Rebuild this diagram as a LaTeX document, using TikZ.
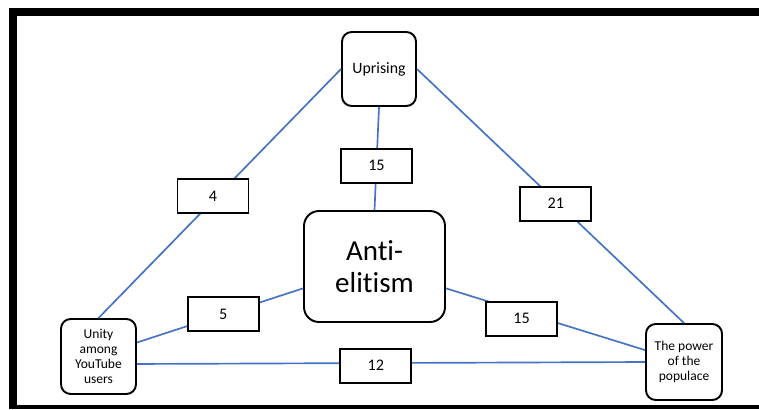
\documentclass[tikz,border=0pt]{standalone}
\usepackage{fontspec}
\setmainfont{Carlito}[Ligatures=NoCommon]
\definecolor{linkblue}{HTML}{4472C4}

\tikzset{
  topic/.style={draw=black, line width=1.1pt, rounded corners=5.5pt, fill=white, align=center,
    inner sep=0pt, minimum width=1.5cm, minimum height=1.5cm, font=\fontsize{7.7}{8.4}\selectfont},
  count/.style={draw=black, line width=1pt, fill=white, inner sep=0pt, minimum width=1.42cm,
    minimum height=0.68cm, font=\fontsize{9.2}{11}\selectfont},
  link/.style={draw=linkblue, line width=0.95pt}
}

\begin{document}
\begin{tikzpicture}[x=0.02cm, y=-0.02cm]
\useasboundingbox (0,0) rectangle (759,409);
\fill[black] (9,8) rectangle (759,16);
\fill[black] (9,8) rectangle (17,409);
\fill[black] (9,405) rectangle (759,409);

\node[topic, minimum width=1.48cm, minimum height=1.48cm, font=\fontsize{9}{11}\selectfont] (up) at (379,69) {Uprising};
\node[topic, minimum width=2.82cm, minimum height=2.22cm, rounded corners=8.5pt, font=\fontsize{16.5}{18}\selectfont] (anti) at (374.5,266.5) {Anti-\\elitism};
\node[topic] (unity) at (98.5,356.5) {Unity\\among\\YouTube\\users};
\node[topic, minimum width=1.52cm, minimum height=1.52cm] (pow) at (684,362) {The power\\of the\\populace};

\draw[link] (up.west) -- node[count, pos=.51, xshift=-2.5pt] {4} (unity.north);
\draw[link] (up.east) -- node[count, pos=.53, xshift=-1.5pt] {21} (pow.north);
\draw[link] (up.south) -- node[count, pos=.57] {15} (anti.north);
\draw[link] (anti.197) -- node[count, pos=.48] {5} (unity.20);
\draw[link] (anti.-17) -- node[count, pos=.38, yshift=-4pt] {15} (pow.163);
\draw[link] (unity.-11) -- node[count, pos=.47, yshift=-1.5pt] {12} (pow.west);
\end{tikzpicture}
\end{document}
